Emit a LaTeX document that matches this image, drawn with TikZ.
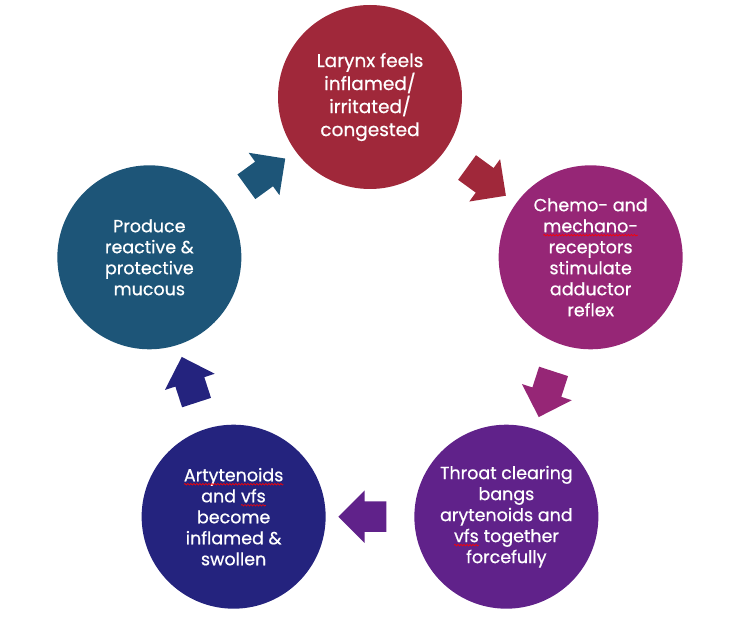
\documentclass[tikz,border=0pt]{standalone}
\usepackage{fontspec}
\setmainfont{Poppins}
\newfontfamily\stagefont{Poppins}[FakeBold=0.6]
\usetikzlibrary{positioning,calc,shapes.arrows,decorations.pathmorphing}

\definecolor{larynxred}{RGB}{160,40,58}
\definecolor{chemopink}{RGB}{150,38,118}
\definecolor{throatpurple}{RGB}{96,34,138}
\definecolor{arytnavy}{RGB}{36,35,126}
\definecolor{mucousteal}{RGB}{29,85,120}

% red wavy underline (spell-check marks)
\newcommand{\spellwave}[1]{\tikz[baseline=(word.base)]{
    \node[rectangle, minimum size=0pt, inner sep=0pt, outer sep=0pt, align=left] (word) {#1};
    \draw[red, line width=0.6pt, decorate, decoration={snake, amplitude=0.8pt, segment length=3pt}]
        ([yshift=-3pt]word.base west) -- ([yshift=-3pt]word.base east);}}

\begin{document}
\begin{tikzpicture}[
    stage/.style={circle, minimum size=184pt, inner sep=0pt, text=white, align=center,
        font=\stagefont\fontsize{17.5}{21}\selectfont},
    cyclearrow/.style={single arrow, minimum height=48pt, inner xsep=0pt, inner ysep=15pt,
        single arrow head extend=11pt}
]
    % Fix the page to the size of the picture
    \useasboundingbox (0,0) rectangle (736pt,627pt);

    % Centre of the cycle
    \coordinate (centre) at (370pt,298pt);

    % Draw the five stages round the centre
    \node[stage, fill=larynxred, font=\stagefont\fontsize{18.5}{23}\selectfont] (larynx) at ([shift={(90:232pt)}]centre)
        {Larynx feels\\inflamed/\\irritated/\\congested};
    \node[stage, fill=chemopink] (chemo) at ([shift={(18:232pt)}]centre)
        {Chemo- and\\\spellwave{mechano-}\\receptors\\stimulate\\adductor\\reflex};
    \node[stage, fill=throatpurple] (throat) at ([shift={(-54:232pt)}]centre)
        {Throat clearing\\bangs\\arytenoids and\\\spellwave{vfs} together\\forcefully};
    \node[stage, fill=arytnavy] (aryt) at ([shift={(-126:232pt)}]centre)
        {\spellwave{Artytenoids}\\and \spellwave{vfs}\\become\\inflamed \&\\swollen};
    \node[stage, fill=mucousteal] (mucous) at ([shift={(162:232pt)}]centre)
        {Produce\\reactive \&\\protective\\mucous};

    % Draw the arrows half way between the stages
    \node[cyclearrow, fill=larynxred, rotate=-36] (arrow1) at ($(larynx)!0.5!(chemo)$) {};
    \node[cyclearrow, fill=chemopink, rotate=-108] (arrow2) at ($(chemo)!0.5!(throat)$) {};
    \node[cyclearrow, fill=throatpurple, rotate=180] (arrow3) at ($(throat)!0.5!(aryt)$) {};
    \node[cyclearrow, fill=arytnavy, rotate=108] (arrow4) at ($(aryt)!0.5!(mucous)$) {};
    \node[cyclearrow, fill=mucousteal, rotate=36] (arrow5) at ($(mucous)!0.5!(larynx)$) {};

\end{tikzpicture}
\end{document}
